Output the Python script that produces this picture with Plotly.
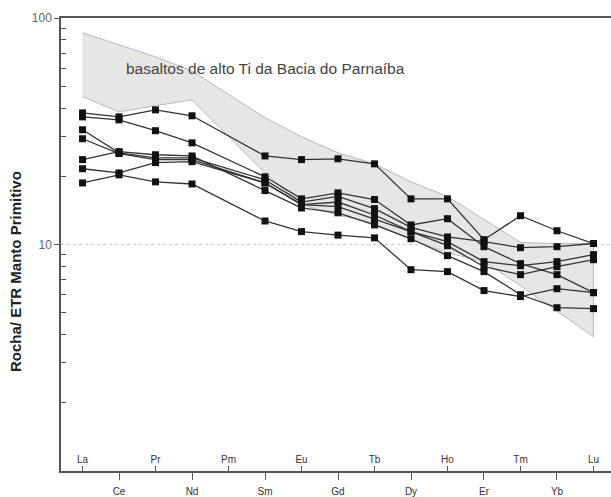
import plotly.graph_objects as go

# Rare earth elements in order along the x axis (Pm is shown but not measured)
REE = ["La", "Ce", "Pr", "Nd", "Pm", "Sm", "Eu", "Gd", "Tb", "Dy", "Ho", "Er", "Tm", "Yb", "Lu"]
MEASURED = ["La", "Ce", "Pr", "Nd", "Sm", "Eu", "Gd", "Tb", "Dy", "Ho", "Er", "Tm", "Yb", "Lu"]

# Primitive-mantle normalised REE patterns of the samples
sample_1 = [38.1, 36.6, 39.3, 37.0, 24.6, 23.7, 23.9, 22.7, 15.9, 15.9, 10.5, 13.4, 11.5, 10.1]
sample_2 = [36.6, 35.5, 31.8, 28.1, 19.9, 15.9, 16.9, 15.8, 12.2, 13.0, 9.78, 8.23, 7.36, 6.13]
sample_3 = [32.1, 25.4, 24.1, 24.1, 19.3, 15.4, 16.3, 14.4, 11.9, 10.8, 10.3, 9.68, 9.78, 10.1]
sample_4 = [29.3, 25.2, 23.7, 23.7, 18.7, 15.0, 15.4, 13.5, 11.4, 10.3, 8.40, 8.06, 8.40, 9.02]
sample_5 = [23.7, 25.7, 24.9, 24.6, 17.3, 14.5, 13.8, 12.2, 10.6, 8.93, 7.59, 6.00, 5.26, 5.21]
sample_6 = [21.6, 20.7, 23.0, 23.2, 18.7, 15.0, 14.7, 12.9, 11.4, 9.88, 7.98, 7.36, 7.98, 8.57]
sample_7 = [18.7, 20.3, 18.9, 18.5, 12.7, 11.4, 11.0, 10.7, 7.74, 7.59, 6.26, 5.89, 6.38, 6.13]
samples = [sample_1, sample_2, sample_3, sample_4, sample_5, sample_6, sample_7]

# Envelope of the high-Ti basalts of the Parnaiba basin
field_upper = [86.0, 76.1, 67.4, 58.4, 36.3, 29.9, 25.4, 22.7, 18.9, 16.3, 12.9, 10.2, 10.1, 10.1]
field_lower = [44.9, 38.5, 41.0, 43.5, 20.7, 15.0, 13.5, 12.4, 10.5, 9.2, 8.4, 6.58, 5.1, 3.92]

idx = {e: i for i, e in enumerate(REE)}
xm = [idx[e] for e in MEASURED]

fig = go.Figure()

# grey field polygon
fig.add_trace(go.Scatter(
    x=xm + xm[::-1], y=field_upper + field_lower[::-1],
    mode="lines", fill="toself", fillcolor="#e6e6e6",
    line=dict(color="#b8b8b8", width=1), hoverinfo="skip", showlegend=False,
))

for s in samples:
    fig.add_trace(go.Scatter(
        x=xm, y=s, mode="lines+markers",
        line=dict(color="#333333", width=1.3),
        marker=dict(symbol="square", size=7, color="#111111"),
        showlegend=False,
    ))

# invisible trace carrying the second (inner-labelled) x axis
fig.add_trace(go.Scatter(x=[0, 14], y=[10, 10], xaxis="x2", mode="none",
                         hoverinfo="skip", showlegend=False))

tick_font = dict(family="Liberation Sans Narrow, Liberation Sans, Arial", size=10, color="#333333")
outer = [i for i in range(len(REE)) if i % 2 == 1]
inner = [i for i in range(len(REE)) if i % 2 == 0]
xr = [-0.59, 14.48]

fig.update_layout(
    width=611, height=497,
    margin=dict(l=61, r=0, t=18, b=26),
    paper_bgcolor="white", plot_bgcolor="white",
    xaxis=dict(
        range=xr, tickmode="array", tickvals=outer, ticktext=[REE[i] for i in outer],
        ticks="outside", ticklen=7, tickcolor="#555555", tickwidth=1.2,
        showline=True, linecolor="#555555", linewidth=1.5, mirror=True,
        showgrid=False, zeroline=False, tickfont=dict(tick_font), ticklabelstandoff=3,
    ),
    xaxis2=dict(
        range=xr, matches="x", overlaying="x", anchor="y", side="bottom",
        tickmode="array", tickvals=inner, ticktext=[REE[i] for i in inner],
        ticks="inside", ticklen=5, tickcolor="#555555", tickwidth=1.2,
        ticklabelposition="inside", showline=False, showgrid=False, zeroline=False,
        tickfont=dict(tick_font),
    ),
    yaxis=dict(
        type="log", range=[0, 2], tickmode="array", tickvals=[1, 10, 100],
        ticktext=["1", "10", "100"], ticks="outside", ticklen=5, tickcolor="#555555",
        showline=True, linecolor="#555555", linewidth=1.5,
        showgrid=True, gridcolor="#c8c8c8", griddash="dot", gridwidth=1,
        zeroline=False,
        tickfont=dict(family="Liberation Sans Narrow, Liberation Sans, Arial", size=12, color="#666666"),
        minor=dict(tickmode="array", tickvals=[2, 3, 4, 5, 6, 7, 8, 9, 20, 30, 40, 50, 60, 70, 80, 90],
                   ticks="inside", ticklen=5, tickcolor="#555555", showgrid=False),
    ),
    annotations=[
        dict(text="<b>Rocha/ ETR Manto Primitivo</b>", xref="paper", yref="paper",
             x=-0.083, y=0.44, textangle=-90, showarrow=False, xanchor="center", yanchor="middle",
             font=dict(family="Liberation Sans, Arial", size=15, color="#222222")),
        dict(text="basaltos de alto Ti da Bacia do Parnaíba", xref="paper", yref="paper",
             x=0.1145, y=0.8875, showarrow=False, xanchor="left", yanchor="middle",
             font=dict(family="Liberation Sans, Arial", size=15.5, color="#444444")),
    ],
)

fig.write_html("out.html")
